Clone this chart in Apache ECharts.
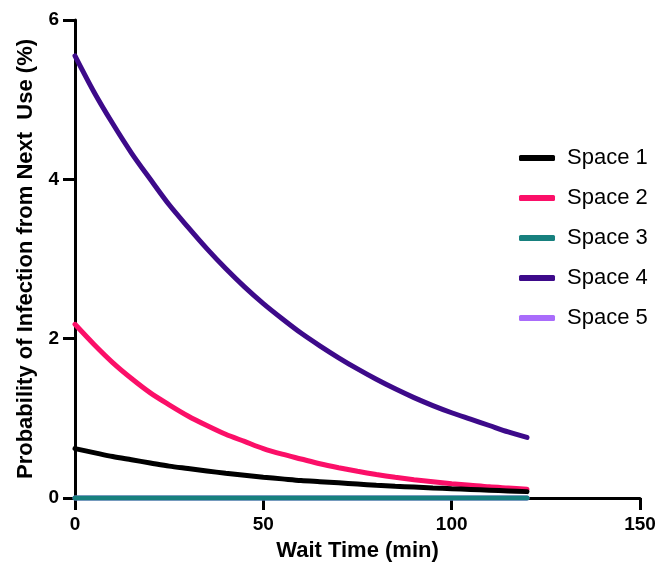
<!DOCTYPE html>
<html>
<head>
<meta charset="utf-8">
<script src="https://cdn.jsdelivr.net/npm/echarts@6/dist/echarts.min.js"></script>
<style>
html,body{margin:0;padding:0;background:#fff;}
#chart{width:660px;height:578px;}
</style>
</head>
<body>
<div id="chart"></div>
<script>
const waitTimes = [0, 5, 10, 15, 20, 25, 30, 35, 40, 45, 50, 55, 60, 65, 70, 75, 80, 85, 90, 95, 100, 105, 110, 115, 120];
const space1 = [0.62, 0.57, 0.52, 0.48, 0.44, 0.40, 0.37, 0.34, 0.31, 0.285, 0.26, 0.24, 0.22, 0.205, 0.19, 0.175, 0.16, 0.148, 0.137, 0.126, 0.116, 0.107, 0.098, 0.089, 0.08];
const space2 = [2.18, 1.93, 1.70, 1.50, 1.32, 1.17, 1.03, 0.91, 0.80, 0.71, 0.62, 0.55, 0.49, 0.43, 0.38, 0.335, 0.295, 0.26, 0.23, 0.205, 0.18, 0.16, 0.14, 0.125, 0.11];
const space3 = [0, 0, 0, 0, 0, 0, 0, 0, 0, 0, 0, 0, 0, 0, 0, 0, 0, 0, 0, 0, 0, 0, 0, 0, 0];
const space4 = [5.55, 5.10, 4.70, 4.33, 4.00, 3.68, 3.40, 3.13, 2.88, 2.65, 2.44, 2.25, 2.07, 1.91, 1.76, 1.62, 1.49, 1.37, 1.26, 1.16, 1.07, 0.99, 0.91, 0.83, 0.76];
const space5 = [0, 0, 0, 0, 0, 0, 0, 0, 0, 0, 0, 0, 0, 0, 0, 0, 0, 0, 0, 0, 0, 0, 0, 0, 0];
const seriesNames = ['Space 1', 'Space 2', 'Space 3', 'Space 4', 'Space 5'];
const seriesColors = ['#000000', '#fb0f68', '#17807e', '#3d0a8a', '#a96cfb'];
const seriesData = [space1, space2, space3, space4, space5];
const seriesZ = [5, 4, 6, 3, 2];

const labelFont = '"Liberation Sans", Arial, sans-serif';
const chart = echarts.init(document.getElementById('chart'));
chart.setOption({
  animation: false,
  backgroundColor: '#fff',
  grid: { left: 75, right: 20, top: 20, bottom: 80, containLabel: false },
  legend: {
    orient: 'vertical',
    left: 514,
    top: 142,
    itemWidth: 36,
    itemHeight: 6,
    itemGap: 18,
    icon: 'roundRect',
    data: seriesNames,
    textStyle: { fontFamily: labelFont, fontSize: 22, color: '#000', padding: [0, 0, 0, 7] }
  },
  xAxis: {
    type: 'value',
    min: 0, max: 150, interval: 50,
    name: 'Wait Time (min)',
    nameLocation: 'middle',
    nameGap: 42,
    nameTextStyle: { fontFamily: labelFont, fontWeight: 'bold', fontSize: 22, color: '#000' },
    axisLine: { show: true, onZero: false, lineStyle: { color: '#000', width: 3 } },
    axisTick: { show: true, inside: false, length: 12, lineStyle: { color: '#000', width: 3 } },
    axisLabel: { fontFamily: labelFont, fontWeight: 'bold', fontSize: 19, color: '#000', margin: 17 },
    splitLine: { show: false }
  },
  yAxis: {
    type: 'value',
    min: 0, max: 6, interval: 2,
    name: 'Probability of Infection from Next  Use (%)',
    nameLocation: 'middle',
    nameGap: 38,
    nameTextStyle: { fontFamily: labelFont, fontWeight: 'bold', fontSize: 22, color: '#000' },
    axisLine: { show: true, onZero: false, lineStyle: { color: '#000', width: 3 } },
    axisTick: { show: true, inside: false, length: 12, lineStyle: { color: '#000', width: 3 } },
    axisLabel: { fontFamily: labelFont, fontWeight: 'bold', fontSize: 19, color: '#000', margin: 16 },
    splitLine: { show: false }
  },
  series: seriesNames.map((name, i) => ({
    name: name,
    type: 'line',
    smooth: 0.3,
    clip: false,
    showSymbol: false,
    symbol: 'none',
    z: seriesZ[i],
    color: seriesColors[i],
    lineStyle: { color: seriesColors[i], width: 5, cap: 'round' },
    data: waitTimes.map((t, j) => [t, seriesData[i][j]])
  }))
});
</script>
</body>
</html>
